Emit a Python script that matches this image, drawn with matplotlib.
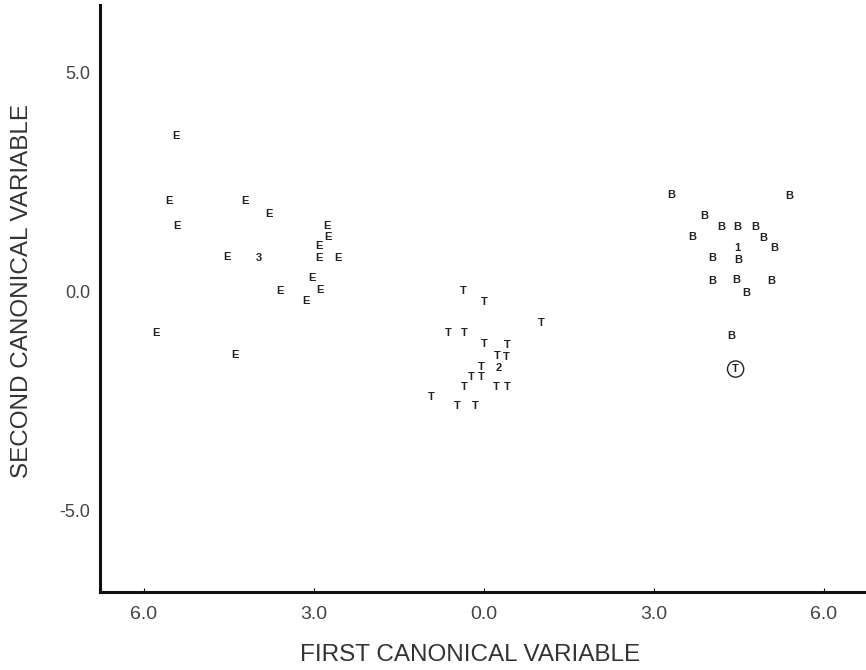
import matplotlib
matplotlib.use("Agg")
import matplotlib.pyplot as plt

plt.rcParams['font.family'] = ['Liberation Sans', 'DejaVu Sans']

# Group E
e_x = [-5.43, -5.56, -4.22, -3.79, -5.41, -2.76, -2.75, -2.91, -4.53, -2.91, -2.57,
       -3.03, -3.59, -2.89, -3.14, -5.78, -4.39]
e_y = [3.57, 2.08, 2.08, 1.78, 1.51, 1.51, 1.25, 1.05, 0.81, 0.77, 0.77,
       0.31, 0.02, 0.05, -0.20, -0.93, -1.45]
# Group T
t_x = [-0.365, 0.0, 1.02, -0.62, -0.35, 0.0, 0.41, 0.23, 0.40, -0.04, -0.23,
       -0.04, -0.35, 0.22, 0.41, -0.92, -0.47, -0.16]
t_y = [0.03, -0.22, -0.71, -0.94, -0.94, -1.19, -1.21, -1.46, -1.49, -1.71, -1.93,
       -1.95, -2.18, -2.18, -2.18, -2.39, -2.60, -2.60]
# Group B
b_x = [3.31, 5.38, 3.89, 4.18, 4.47, 4.78, 3.68, 4.93, 5.13, 4.03, 4.49,
       4.03, 4.46, 5.07, 4.62, 4.37]
b_y = [2.21, 2.20, 1.74, 1.48, 1.48, 1.49, 1.26, 1.24, 1.01, 0.77, 0.73,
       0.25, 0.27, 0.25, -0.03, -1.00]
# Overlapping points (count labels)
multi_x = [-3.97, 0.26, 4.47]
multi_y = [0.78, -1.73, 1.00]
multi_lab = ['3', '2', '1']
# Misclassified T (circled)
circ_x = [4.44]
circ_y = [-1.76]
circ_lab = ['T']

x_ticks = [-6, -3, 0, 3, 6]
x_ticklabels = ['6.0', '3.0', '0.0', '3.0', '6.0']
y_ticks = [5, 0, -5]
y_ticklabels = ['5.0', '0.0', '-5.0']

fig = plt.figure(figsize=(8.66, 6.70), dpi=100)
ax = fig.add_axes([0.1155, 0.1164, 0.8845, 0.876])
ax.set_xlim(-6.77, 6.74)
ax.set_ylim(-6.85, 6.55)

pt_kw = dict(ha='center', va='center', fontsize=8, fontweight='bold', color='#222222')
for x, y in zip(e_x, e_y):
    ax.text(x, y, 'E', **pt_kw)
for x, y in zip(t_x, t_y):
    ax.text(x, y, 'T', **pt_kw)
for x, y in zip(b_x, b_y):
    ax.text(x, y, 'B', **pt_kw)
for x, y, s in zip(multi_x, multi_y, multi_lab):
    ax.text(x, y, s, **pt_kw)
for x, y, s in zip(circ_x, circ_y, circ_lab):
    ax.text(x, y, s, bbox=dict(boxstyle='circle,pad=0.28', fc='none', ec='#222222', lw=1.0),
            **pt_kw)

for side in ['top', 'right']:
    ax.spines[side].set_visible(False)
for side in ['left', 'bottom']:
    ax.spines[side].set_linewidth(2.2)
    ax.spines[side].set_color('#111111')

ax.set_xticks(x_ticks)
ax.set_xticklabels(x_ticklabels)
ax.set_yticks(y_ticks)
ax.set_yticklabels(y_ticklabels)
ax.tick_params(axis='x', direction='in', length=3, width=0.8, pad=10,
               labelsize=14, labelcolor='#444444')
ax.tick_params(axis='y', length=0, pad=7, labelsize=13, labelcolor='#444444')

fig.text(0.543, 0.022, 'FIRST CANONICAL VARIABLE', ha='center', va='center',
         fontsize=17.5, color='#333333')
fig.text(0.025, 0.565, 'SECOND CANONICAL VARIABLE', ha='center', va='center',
         rotation=90, fontsize=17.5, color='#333333')

fig.savefig('out.png', dpi=100)
